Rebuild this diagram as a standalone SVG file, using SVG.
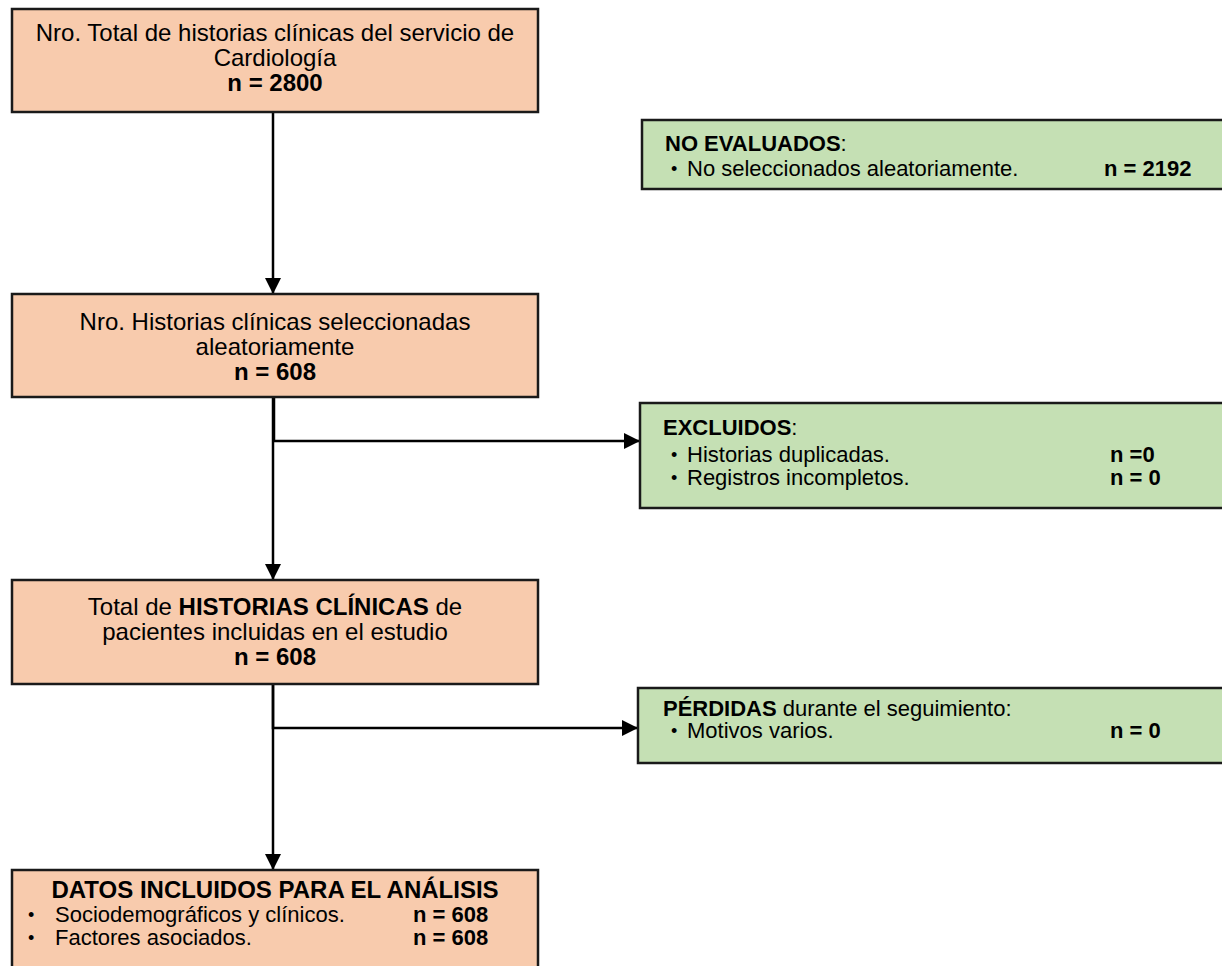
<svg xmlns="http://www.w3.org/2000/svg" width="1222" height="966" viewBox="0 0 1222 966">
<style>
text{font-family:"Liberation Sans",Arial,sans-serif;font-size:22px;fill:#000}
.L{font-size:24px}
.b{font-weight:bold}
.c{text-anchor:middle}
.dot{font-size:18px}
.peach{fill:#F8CBAD;stroke:#1a1a1a;stroke-width:2.5}
.green{fill:#C5E0B4;stroke:#1a1a1a;stroke-width:2.5}
.conn{fill:none;stroke:#000;stroke-width:2.5}
</style>
<defs>
<marker id="arr" viewBox="0 0 10 10" refX="10" refY="5" markerWidth="6.4" markerHeight="6.4" markerUnits="strokeWidth" orient="auto">
<path d="M0,0 L10,5 L0,10 z" fill="#000"/>
</marker>
</defs>
<rect width="1222" height="966" fill="#fff"/>
<g id="connectors">
<line class="conn" x1="273" y1="108" x2="273" y2="294" marker-end="url(#arr)"/>
<path class="conn" d="M274,397 V441 H640" marker-end="url(#arr)"/>
<line class="conn" x1="273" y1="397" x2="273" y2="580" marker-end="url(#arr)"/>
<path class="conn" d="M273,684 V728 H638" marker-end="url(#arr)"/>
<line class="conn" x1="273" y1="684" x2="273" y2="870" marker-end="url(#arr)"/>
</g>
<g id="total">
<rect class="peach" x="12" y="9" width="526" height="103"/>
<text class="c L" x="275" y="41">Nro. Total de historias clínicas del servicio de</text>
<text class="c L" x="275" y="66">Cardiología</text>
<text class="c b L" x="275" y="91">n = 2800</text>
</g>
<g id="no-evaluados">
<rect class="green" x="642" y="120" width="600" height="69"/>
<text x="665" y="151"><tspan class="b">NO EVALUADOS</tspan>:</text>
<text class="dot" x="671" y="175">•</text>
<text x="687" y="176">No seleccionados aleatoriamente.</text>
<text class="b" x="1104" y="176">n = 2192</text>
</g>
<g id="seleccionadas">
<rect class="peach" x="12" y="294" width="526" height="103"/>
<text class="c L" x="275" y="330">Nro. Historias clínicas seleccionadas</text>
<text class="c L" x="275" y="355">aleatoriamente</text>
<text class="c b L" x="275" y="380">n = 608</text>
</g>
<g id="excluidos">
<rect class="green" x="640" y="403" width="600" height="105"/>
<text x="663" y="435"><tspan class="b">EXCLUIDOS</tspan>:</text>
<text class="dot" x="671" y="461">•</text>
<text x="687" y="462">Historias duplicadas.</text>
<text class="b" x="1110" y="462">n =0</text>
<text class="dot" x="671" y="484">•</text>
<text x="687" y="485">Registros incompletos.</text>
<text class="b" x="1110" y="485">n = 0</text>
</g>
<g id="incluidas">
<rect class="peach" x="12" y="580" width="526" height="104"/>
<text class="c L" x="275" y="615">Total de <tspan class="b">HISTORIAS CLÍNICAS</tspan> de</text>
<text class="c L" x="275" y="640">pacientes incluidas en el estudio</text>
<text class="c b L" x="275" y="665">n = 608</text>
</g>
<g id="perdidas">
<rect class="green" x="638" y="688" width="600" height="75"/>
<text x="663" y="716"><tspan class="b">PÉRDIDAS</tspan> durante el seguimiento:</text>
<text class="dot" x="671" y="737">•</text>
<text x="687" y="738">Motivos varios.</text>
<text class="b" x="1110" y="738">n = 0</text>
</g>
<g id="analisis">
<rect class="peach" x="12" y="870" width="526" height="110"/>
<text class="c b L" x="275" y="898">DATOS INCLUIDOS PARA EL ANÁLISIS</text>
<text class="dot" x="28" y="921">•</text>
<text x="55" y="922">Sociodemográficos y clínicos.</text>
<text class="b" x="413" y="922">n = 608</text>
<text class="dot" x="28" y="944">•</text>
<text x="55" y="945">Factores asociados.</text>
<text class="b" x="413" y="945">n = 608</text>
</g>
</svg>
